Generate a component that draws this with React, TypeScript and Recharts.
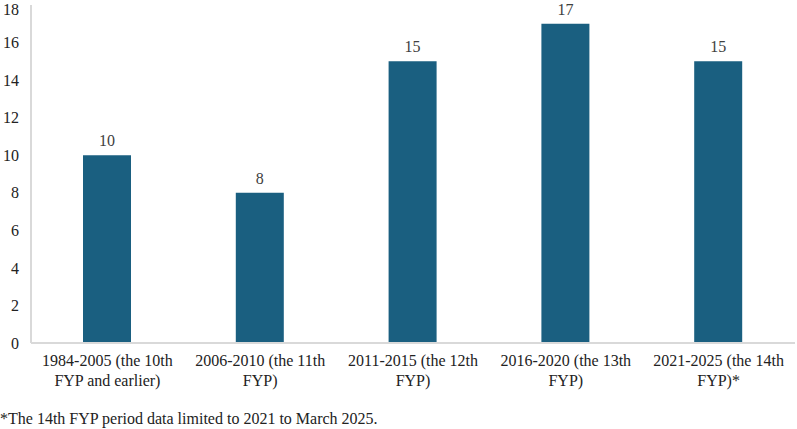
import { BarChart, Bar, XAxis, YAxis, LabelList } from "recharts";

const periods = [
  "1984-2005 (the 10th FYP and earlier)",
  "2006-2010 (the 11th FYP)",
  "2011-2015 (the 12th FYP)",
  "2016-2020 (the 13th FYP)",
  "2021-2025 (the 14th FYP)*",
];
const labelLines = [
  ["1984-2005 (the 10th", "FYP and earlier)"],
  ["2006-2010 (the 11th", "FYP)"],
  ["2011-2015 (the 12th", "FYP)"],
  ["2016-2020 (the 13th", "FYP)"],
  ["2021-2025 (the 14th", "FYP)*"],
];
const counts = [10, 8, 15, 17, 15];
const yTicks = [0, 2, 4, 6, 8, 10, 12, 14, 16, 18];

const FONT = "Liberation Serif, DejaVu Serif, serif";
const BAR = "#1a5f80";

function CategoryTick(props: any) {
  const { x, y, index } = props;
  const lines = labelLines[index] || [];
  return (
    <g transform={`translate(${x},${y})`}>
      {lines.map((ln, i) => (
        <text
          key={i}
          x={0}
          y={15 + i * 20}
          textAnchor="middle"
          fill="#222"
          fontSize={16}
          style={{ fontFamily: FONT }}
        >
          {ln}
        </text>
      ))}
    </g>
  );
}

export default function App() {
  const data = periods.map((p, i) => ({ period: p, count: counts[i] }));
  return (
    <div style={{ position: "absolute", left: 0, top: 0, width: 797, height: 429, background: "#fff", fontFamily: FONT }}>
      <BarChart width={797} height={429} data={data} margin={{ top: 5, right: 2, left: 0, bottom: 0 }} style={{ fontFamily: FONT }}>
        <XAxis
          dataKey="period"
          interval={0}
          height={86}
          tickLine={false}
          axisLine={{ stroke: "#d9d9d9", strokeWidth: 2 }}
          tick={<CategoryTick />}
        />
        <YAxis
          width={31}
          domain={[0, 18]}
          ticks={yTicks}
          tickLine={false}
          axisLine={{ stroke: "#d9d9d9", strokeWidth: 2 }}
          tick={{ fill: "#222", fontSize: 16, style: { fontFamily: FONT } }}
          tickMargin={6}
        />
        <Bar dataKey="count" fill={BAR} barSize={48} isAnimationActive={false}>
          <LabelList dataKey="count" position="top" offset={9} fill="#404040" fontSize={16} style={{ fontFamily: FONT }} />
        </Bar>
      </BarChart>
      <div style={{ position: "absolute", left: 0, top: 409, fontSize: 16, lineHeight: "20px", color: "#222", fontFamily: FONT, whiteSpace: "nowrap" }}>
        *The 14th FYP period data limited to 2021 to March 2025.
      </div>
    </div>
  );
}
